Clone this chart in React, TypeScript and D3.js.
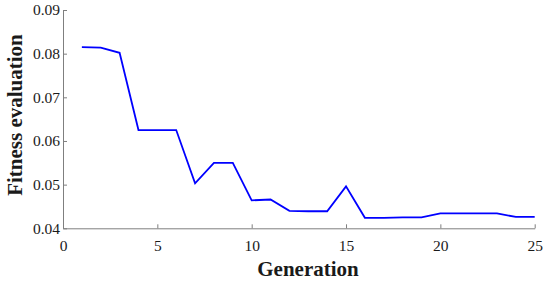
import React, { useEffect, useRef } from 'react';
import * as d3 from 'd3';

const generations = [1, 2, 3, 4, 5, 6, 7, 8, 9, 10, 11, 12, 13, 14, 15, 16, 17, 18, 19, 20, 21, 22, 23, 24, 25];
const fitness = [
  0.0815, 0.0814, 0.0802, 0.0625, 0.0625, 0.0625, 0.0503, 0.055, 0.055, 0.0464,
  0.0466, 0.044, 0.0439, 0.0439, 0.0496, 0.0424, 0.0424, 0.0425, 0.0425, 0.0434,
  0.0434, 0.0434, 0.0434, 0.0426, 0.0426,
];
const xTicks = [0, 5, 10, 15, 20, 25];
const yTicks = [0.04, 0.05, 0.06, 0.07, 0.08, 0.09];

const W = 550;
const H = 283;
const serif = "'Liberation Serif', 'Times New Roman', Times, serif";

export default function App() {
  const svgRef = useRef<SVGSVGElement>(null);

  useEffect(() => {
    const svg = d3.select(svgRef.current);
    svg.selectAll('*').remove();

    const x = d3.scaleLinear().domain([0, 25]).range([63, 534.7]);
    const y = d3.scaleLinear().domain([0.04, 0.09]).range([228.3, 10]);
    const axisColor = '#7f7f7f';

    // x axis, ticks pointing inward
    const xAxis = svg.append('g')
      .attr('transform', `translate(0,${y(0.04)})`)
      .call(d3.axisBottom(x).tickValues(xTicks).tickSizeInner(-4).tickSizeOuter(0).tickPadding(12)
        .tickFormat((d) => String(d)));
    xAxis.attr('font-family', null).attr('font-size', null);
    xAxis.select('.domain').attr('stroke', axisColor);
    xAxis.selectAll('line').attr('stroke', axisColor);
    xAxis.selectAll('text').attr('fill', '#1a1a1a');

    const yAxis = svg.append('g')
      .attr('transform', `translate(${x(0)},0)`)
      .call(d3.axisLeft(y).tickValues(yTicks).tickSizeInner(-4).tickSizeOuter(0).tickPadding(3)
        .tickFormat(d3.format('.2f')));
    yAxis.attr('font-family', null).attr('font-size', null);
    yAxis.select('.domain').attr('stroke', axisColor);
    yAxis.selectAll('line').attr('stroke', axisColor);
    yAxis.selectAll('text').attr('fill', '#1a1a1a');

    // the curve
    const line = d3.line<number>()
      .x((_, i) => x(generations[i]))
      .y((d) => y(d));
    svg.append('path')
      .datum(fitness)
      .attr('fill', 'none')
      .attr('stroke', '#0000ff')
      .attr('stroke-width', 1.8)
      .attr('d', line);

    // axis titles
    svg.append('text')
      .attr('x', 308)
      .attr('y', 276)
      .attr('text-anchor', 'middle')
      .attr('font-weight', 'bold')
      .attr('font-size', 21)
      .attr('fill', '#1a1a1a')
      .text('Generation');

    svg.append('text')
      .attr('transform', 'translate(22,115) rotate(-90)')
      .attr('text-anchor', 'middle')
      .attr('font-weight', 'bold')
      .attr('font-size', 21)
      .attr('fill', '#1a1a1a')
      .text('Fitness evaluation');
  }, []);

  return (
    <svg ref={svgRef} width={W} height={H}
      style={{ position: 'absolute', left: 0, top: 0, background: '#fff', fontFamily: serif, fontSize: 15.5 }} />
  );
}
